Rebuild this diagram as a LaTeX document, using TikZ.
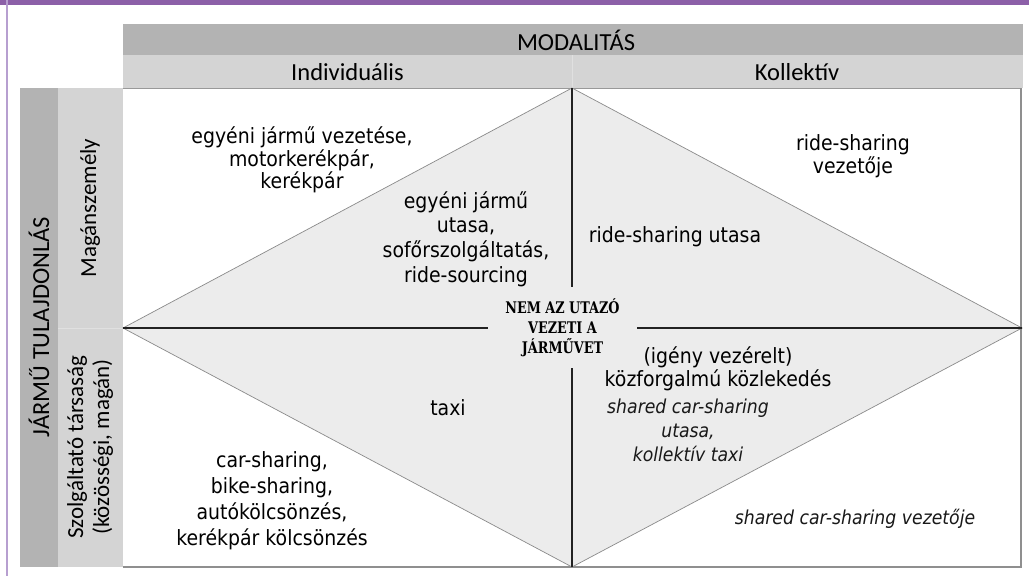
\documentclass[tikz,border=0pt]{standalone}
\usepackage{fontspec}
\setmainfont{DejaVu Sans}[FakeStretch=0.9]
\newfontfamily\hdrfont{Carlito}
\newfontfamily\ctrfont{DejaVu Serif}[FakeStretch=0.8]
\definecolor{barpurple}{HTML}{8C60A8}
\definecolor{linepurple}{HTML}{B79FD0}
\definecolor{darkhead}{HTML}{B3B3B3}
\definecolor{lighthead}{HTML}{D4D4D4}
\definecolor{diafill}{HTML}{ECECEC}
\definecolor{diaedge}{HTML}{8A8A8A}
\definecolor{boxedge}{HTML}{8F8F8F}
\definecolor{axis}{HTML}{222222}
\tikzset{
  body/.style={align=center, inner sep=0pt, text=black},
  hdr/.style={inner sep=0pt, font=\hdrfont\fontsize{24.5}{27}\selectfont, text=black},
  axisline/.style={draw=axis, line width=1.8pt},
  itl/.style={body, font=\itshape\fontsize{19.2}{24}\selectfont, text=black!90},
}
\begin{document}
\begin{tikzpicture}[x=1pt,y=-1pt]
\useasboundingbox (0,0) rectangle (1029,576);
\fill[white] (0,0) rectangle (1029,576);
% frame decoration
\fill[barpurple] (0,0) rectangle (1029,5);
\fill[linepurple] (6,0) rectangle (8,576);
% headers
\fill[darkhead] (123,24) rectangle (1023,55);
\fill[lighthead] (123,55) rectangle (1023,88);
\draw[white!88!black, line width=0.8pt] (572,55) -- (572,88);
\fill[darkhead] (20,88) rectangle (58,567);
\fill[lighthead] (58,88) rectangle (123,567);
\draw[white!88!black, line width=0.8pt] (58,328) -- (123,328);
\node[hdr] (modal) at (576,40) {MODALITÁS};
\node[hdr] (indiv) at (347.5,72) {Individuális};
\node[hdr] (koll) at (797,72) {Kollektív};
\node[hdr, rotate=90] (jarmu) at (39,327) {JÁRMŰ TULAJDONLÁS};
\node[hdr, rotate=90, font=\hdrfont\fontsize{23}{26}\selectfont] (magan) at (90,208) {Magánszemély};
\node[hdr, rotate=90, align=center, font=\hdrfont\fontsize{23}{26}\selectfont] (szolg) at (90,447) {Szolgáltató társaság\\(közösségi, magán)};
% main box
\fill[white] (123,88) rectangle (1022,567);
\coordinate (L) at (123,328);
\coordinate (T) at (572,88);
\coordinate (R) at (1022,328);
\coordinate (B) at (572,567);
\filldraw[fill=diafill, draw=diaedge, line width=0.7pt] (L) -- (T) -- (R) -- (B) -- cycle;
\draw[black!40, line width=0.8pt] (123,88) -- (1022,88);
\draw[boxedge, line width=2pt] (1021,88) -- (1021,568);
\draw[boxedge, line width=2pt] (123,567) -- (1022,567);
% centre
\node[body, minimum width=149pt, minimum height=81pt, font=\ctrfont\bfseries\fontsize{16}{20}\selectfont] (mid) at (562.5,327.5) {NEM AZ UTAZÓ\\VEZETI A\\JÁRMŰVET};
\draw[axisline] (T) -- (T |- mid.north);
\draw[axisline] (B |- mid.south) -- (B);
\draw[axisline] (L) -- (mid.west |- L);
\draw[axisline] (mid.east |- R) -- (R);
% texts
\node[body, font=\fontsize{21}{22.5}\selectfont] (a) at (302,160) {egyéni jármű vezetése,\\motorkerékpár,\\kerékpár};
\node[body, font=\fontsize{21}{24.7}\selectfont] (b) at (466,239) {egyéni jármű\\utasa,\\sofőrszolgáltatás,\\ride-sourcing};
\node[body, font=\fontsize{21}{23}\selectfont] (c) at (853,156) {ride-sharing\\vezetője};
\node[body, font=\fontsize{21}{23}\selectfont] (d) at (675,237) {ride-sharing utasa};
\node[body, font=\fontsize{21}{23}\selectfont] (e) at (718,369) {(igény vezérelt)\\közforgalmú közlekedés};
\node[itl] (f) at (688,430) {shared car-sharing\\utasa,\\kollektív taxi};
\node[itl] (g) at (855,519) {shared car-sharing vezetője};
\node[body, font=\fontsize{21}{23}\selectfont] (h) at (448,408) {taxi};
\node[body, font=\fontsize{21}{26}\selectfont] (i) at (272,501) {car-sharing,\\bike-sharing,\\autókölcsönzés,\\kerékpár kölcsönzés};
\end{tikzpicture}
\end{document}
